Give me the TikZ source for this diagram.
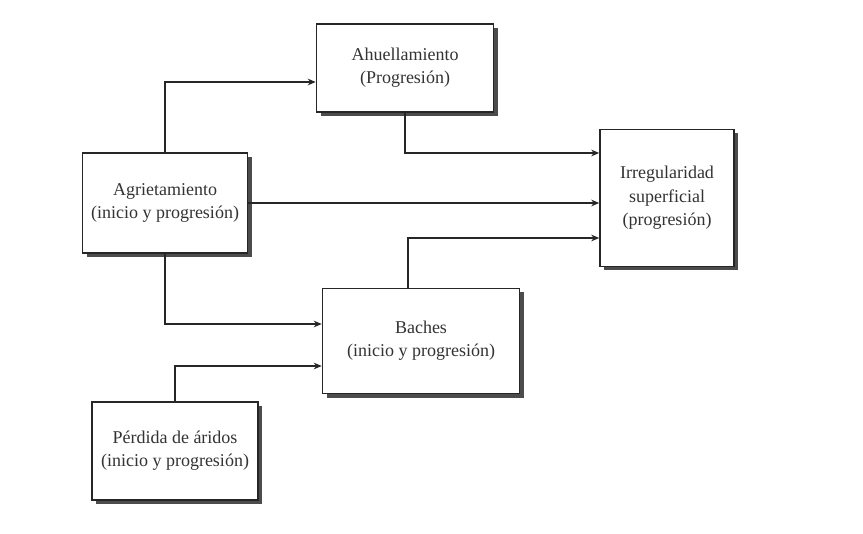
\documentclass[tikz,border=0pt]{standalone}
\usepackage{fontspec}
\setmainfont{Liberation Serif}
\usetikzlibrary{shadows,arrows.meta}
\begin{document}
\begin{tikzpicture}[x=0.75pt,y=-0.75pt,
  boxnode/.style={draw=black!85, line width=1.2pt, fill=white, inner sep=0pt,
    align=center, text=black!80,
    font=\fontsize{13.5}{17.5}\selectfont,
    drop shadow={shadow xshift=3pt, shadow yshift=-3pt, fill=black!70, opacity=1}},
  arr/.style={draw=black!85, line width=1pt, -{Stealth[length=6pt,width=5pt]}}]
\useasboundingbox[fill=white] (0,0) rectangle (863,534);
\node[boxnode, minimum width=132.75pt, minimum height=66pt] (ahu) at (405,68) {Ahuellamiento\\(Progresión)};
\node[boxnode, minimum width=123.75pt, minimum height=75pt] (agr) at (165,203) {Agrietamiento\\(inicio y progresión)};
\node[boxnode, minimum width=100.5pt, minimum height=102.75pt] (irr) at (667,198) {Irregularidad\\superficial\\(progresión)};
\node[boxnode, minimum width=147.75pt, minimum height=78.75pt] (bac) at (421,341) {Baches\\(inicio y progresión)};
\node[boxnode, minimum width=124.5pt, minimum height=73.5pt] (per) at (175,451) {Pérdida de áridos\\(inicio y progresión)};
\draw[arr] (agr.north) |- ([yshift=-10.5pt]ahu.west);
\draw[arr] (ahu.south) |- ([yshift=33.75pt]irr.west);
\draw[arr] (agr.east) -- (agr.east -| irr.west);
\draw[arr] ([xshift=-9.75pt]bac.north) |- ([yshift=-30pt]irr.west);
\draw[arr] (agr.south) |- ([yshift=12.75pt]bac.west);
\draw[arr] (per.north) |- ([yshift=-18.75pt]bac.west);
\end{tikzpicture}
\end{document}
